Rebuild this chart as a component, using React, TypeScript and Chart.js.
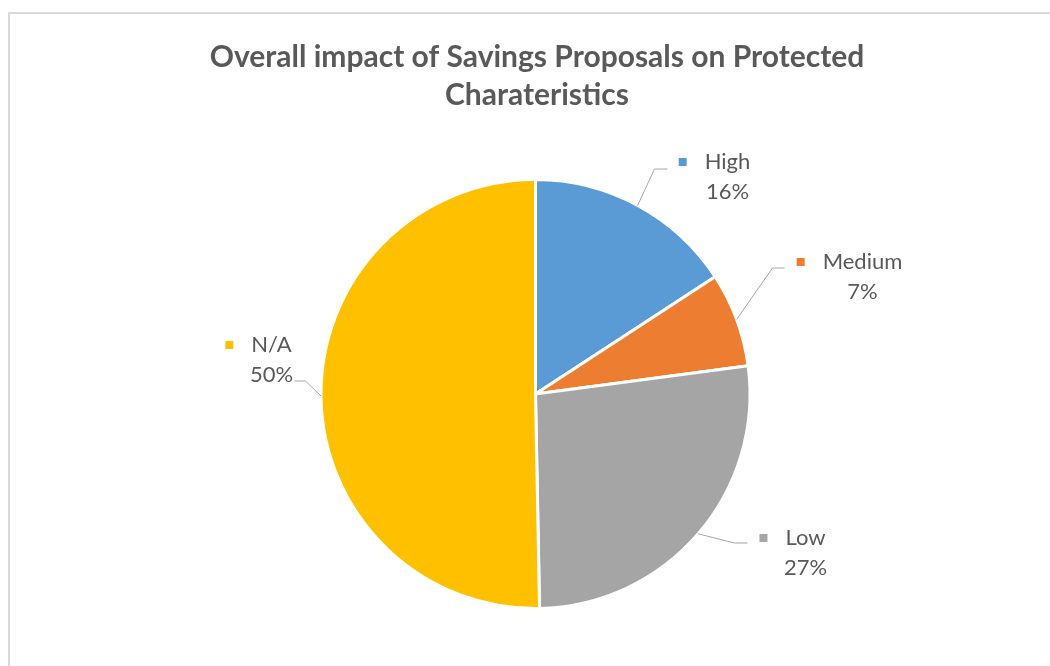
import React, { useEffect, useRef } from "react";
import { Chart, registerables } from "chart.js";

Chart.register(...registerables);

const titleLines = ["Overall impact of Savings Proposals on Protected", "Charateristics"];
const categories = ["High", "Medium", "Low", "N/A"];
const values = [15.8, 7.1, 26.8, 50.3];
const colors = ["#5B9BD5", "#ED7D31", "#A5A5A5", "#FFC000"];
const percentLabels = ["16%", "7%", "27%", "50%"];

// label layout (offsets from pie centre, px): first text line, elbow, leader end
const labelLayout = [
  { tx: 192, ty: -232, ex: 119, ey: -225, lx: 132, ly: -225 },
  { tx: 327, ty: -132, ex: 237, ey: -126, lx: 249, ly: -126 },
  { tx: 270, ty: 144, ex: 199, ey: 149, lx: 212, ly: 149 },
  { tx: -264, ty: -49, ex: -230, ey: -13, lx: -241, ly: -13 },
];

const FONT = "Lato, 'Open Sans', sans-serif";

const decorPlugin = {
  id: "decor",
  afterDraw(chart: any) {
    const ctx = chart.ctx as CanvasRenderingContext2D;
    ctx.save();
    ctx.fillStyle = "#595959";
    ctx.font = `bold 30px ${FONT}`;
    ctx.textAlign = "center";
    ctx.textBaseline = "middle";
    titleLines.forEach((t, i) => ctx.fillText(t, 537, 57 + i * 38));
    ctx.restore();

    const meta = chart.getDatasetMeta(0);
    meta.data.forEach((arc: any, i: number) => {
      const { x, y, startAngle, endAngle, outerRadius } = arc.getProps(
        ["x", "y", "startAngle", "endAngle", "outerRadius"],
        true
      );
      const mid = (startAngle + endAngle) / 2;
      const sx = x + Math.cos(mid) * outerRadius;
      const sy = y + Math.sin(mid) * outerRadius;
      const L = labelLayout[i];
      ctx.save();
      ctx.strokeStyle = "#A6A6A6";
      ctx.lineWidth = 1;
      ctx.beginPath();
      ctx.moveTo(sx, sy);
      ctx.lineTo(x + L.ex, y + L.ey);
      ctx.lineTo(x + L.lx, y + L.ly);
      ctx.stroke();

      ctx.font = `22px ${FONT}`;
      ctx.fillStyle = "#595959";
      ctx.textAlign = "center";
      ctx.textBaseline = "middle";
      const cx = x + L.tx;
      const y1 = y + L.ty;
      const y2 = y1 + 30;
      ctx.fillText(categories[i], cx, y1);
      ctx.fillText(percentLabels[i], cx, y2);
      const w = ctx.measureText(categories[i]).width;
      ctx.fillStyle = colors[i];
      ctx.fillRect(cx - w / 2 - 18 - 8, y1 - 4, 8, 8);
      ctx.restore();
    });
  },
};

export default function App() {
  const ref = useRef<HTMLCanvasElement | null>(null);
  useEffect(() => {
    if (!ref.current) return;
    const chart = new Chart(ref.current, {
      type: "pie",
      data: {
        labels: categories,
        datasets: [
          {
            data: values,
            backgroundColor: colors,
            borderColor: "#FFFFFF",
            borderWidth: 3,
          },
        ],
      },
      options: {
        responsive: false,
        animation: false,
        layout: { padding: { left: 319, right: 298, top: 178, bottom: 56 } },
        plugins: {
          legend: { display: false },
          title: { display: false },
          tooltip: { enabled: false },
        },
      },
      plugins: [decorPlugin],
    });
    return () => chart.destroy();
  }, []);
  return (
    <div style={{ position: "fixed", left: 0, top: 0, width: 1050, height: 666, overflow: "hidden", background: "#fff" }}>
      <div
        style={{
          position: "absolute",
          left: 8,
          top: 12,
          width: 1200,
          height: 800,
          border: "2px solid #D9D9D9",
          boxSizing: "border-box",
        }}
      />
      <canvas ref={ref} width={1050} height={666} style={{ position: "absolute", left: 0, top: 0 }} />
    </div>
  );
}
